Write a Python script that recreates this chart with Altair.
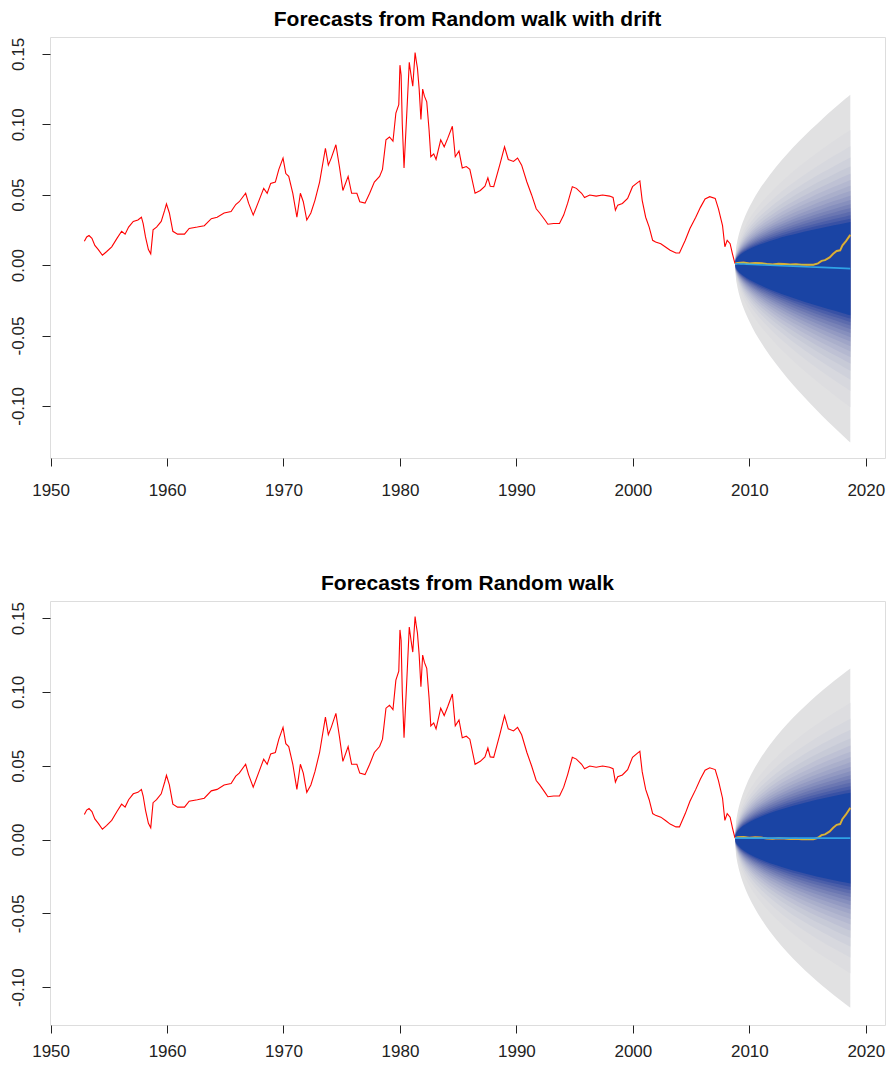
import math
import altair as alt
import pandas as pd

# ---------------- data ----------------
hist_t = [1952.9, 1953.1, 1953.3, 1953.55, 1953.8, 1954.1, 1954.45, 1954.8, 1955.25, 1955.7,
          1956.1, 1956.4, 1956.7, 1957.1, 1957.5, 1957.8, 1957.95, 1958.15, 1958.4, 1958.6,
          1958.8, 1959.1, 1959.5, 1959.8, 1959.95, 1960.2, 1960.5, 1960.9, 1961.5, 1961.9,
          1962.6, 1963.2, 1963.8, 1964.3, 1964.9, 1965.5, 1965.9, 1966.2, 1966.75, 1967.0,
          1967.4, 1967.9, 1968.3, 1968.6, 1968.9, 1969.3, 1969.6, 1969.96, 1970.2, 1970.45,
          1970.8, 1971.15, 1971.45, 1971.7, 1972.0, 1972.35, 1972.7, 1973.1, 1973.6, 1973.85,
          1974.1, 1974.5, 1974.8, 1975.1, 1975.55, 1975.85, 1976.3, 1976.55, 1977.0, 1977.4,
          1977.8, 1978.25, 1978.5, 1978.8, 1979.1, 1979.4, 1979.65, 1979.9, 1980.0, 1980.1,
          1980.2, 1980.35, 1980.6, 1980.8, 1980.95, 1981.1, 1981.3, 1981.4, 1981.5, 1981.65,
          1981.8, 1981.95, 1982.1, 1982.3, 1982.5, 1982.65, 1982.9, 1983.1, 1983.5, 1983.8,
          1984.1, 1984.5, 1984.75, 1985.07, 1985.35, 1985.7, 1986.0, 1986.45, 1986.9, 1987.3,
          1987.55, 1987.75, 1988.05, 1988.6, 1988.98, 1989.3, 1989.75, 1990.1, 1990.45, 1990.9,
          1991.3, 1991.7, 1992.0, 1992.45, 1992.7, 1993.2, 1993.7, 1994.06, 1994.4, 1994.8,
          1995.15, 1995.6, 1995.85, 1996.3, 1996.85, 1997.4, 1998.0, 1998.3, 1998.5, 1998.7,
          1999.1, 1999.55, 1999.97, 2000.4, 2000.6, 2000.8, 2001.1, 2001.4, 2001.7, 2001.95,
          2002.4, 2002.8, 2003.2, 2003.7, 2004.0, 2004.5, 2004.9, 2005.4, 2005.8, 2006.2,
          2006.6, 2007.07, 2007.35, 2007.7, 2007.9, 2008.1, 2008.35, 2008.55, 2008.77]
hist_v = [0.017, 0.020, 0.021, 0.019, 0.014, 0.011, 0.007, 0.0095, 0.013, 0.019,
          0.024, 0.022, 0.027, 0.031, 0.032, 0.034, 0.0295, 0.020, 0.011, 0.008,
          0.025, 0.027, 0.031, 0.039, 0.0435, 0.037, 0.024, 0.022, 0.022, 0.026,
          0.027, 0.028, 0.033, 0.034, 0.037, 0.038, 0.043, 0.045, 0.051, 0.044,
          0.0355, 0.046, 0.0545, 0.051, 0.058, 0.059, 0.068, 0.076, 0.065, 0.063,
          0.051, 0.034, 0.051, 0.045, 0.032, 0.037, 0.046, 0.059, 0.083, 0.071,
          0.076, 0.0855, 0.070, 0.053, 0.063, 0.051, 0.051, 0.045, 0.044, 0.051,
          0.059, 0.063, 0.068, 0.089, 0.091, 0.088, 0.108, 0.114, 0.142, 0.135,
          0.100, 0.069, 0.110, 0.144, 0.135, 0.127, 0.151, 0.145, 0.140, 0.125,
          0.1035, 0.125, 0.120, 0.116, 0.096, 0.077, 0.079, 0.075, 0.089, 0.084,
          0.090, 0.0986, 0.077, 0.081, 0.069, 0.070, 0.068, 0.051, 0.053, 0.056,
          0.062, 0.056, 0.0557, 0.072, 0.084, 0.075, 0.0736, 0.076, 0.071, 0.059,
          0.050, 0.040, 0.037, 0.032, 0.029, 0.0295, 0.0295, 0.0355, 0.044, 0.0557,
          0.0545, 0.051, 0.048, 0.0498, 0.049, 0.0498, 0.049, 0.048, 0.039, 0.0426,
          0.0438, 0.0474, 0.0557, 0.0586, 0.0598, 0.046, 0.034, 0.027, 0.0176, 0.0164,
          0.0152, 0.0129, 0.0105, 0.0086, 0.0086, 0.0176, 0.026, 0.034, 0.041, 0.047,
          0.0486, 0.0474, 0.040, 0.028, 0.013, 0.0176, 0.0152, 0.008, 0.001]

act_t = [2008.77, 2009.0, 2009.5, 2010.0, 2010.5, 2011.0, 2011.5, 2012.0, 2012.5, 2013.0,
         2013.5, 2014.0, 2014.5, 2015.0, 2015.5, 2015.9, 2016.2, 2016.5, 2016.9, 2017.2,
         2017.5, 2017.8, 2018.0, 2018.3, 2018.67]
act_v = [0.001, 0.0015, 0.0018, 0.0012, 0.0015, 0.0014, 0.0008, 0.0005, 0.0009, 0.0007,
         0.0004, 0.0006, 0.0003, 0.0002, 0.0002, 0.0012, 0.003, 0.0035, 0.0055, 0.008,
         0.010, 0.0105, 0.014, 0.017, 0.0215]

fc_t = [2008.77, 2008.85, 2008.94, 2009.02, 2009.27, 2009.52, 2009.77, 2010.27, 2010.77,
        2011.27, 2012.27, 2013.27, 2014.27, 2015.27, 2016.27, 2017.27, 2018.27, 2018.67]
# point forecasts and 99% half-widths
drift_mean = [0.001, 0.00097, 0.00094, 0.00091, 0.00082, 0.00073, 0.00065, 0.00047, 0.00029,
              0.00012, -0.00024, -0.00059, -0.00094, -0.0013, -0.00165, -0.002, -0.00236, -0.0025]
drift_half99 = [0.0, 0.0102, 0.0149, 0.0181, 0.0257, 0.0315, 0.0365, 0.0449, 0.0521,
                0.0584, 0.0697, 0.0797, 0.0889, 0.0974, 0.1055, 0.1132, 0.1206, 0.1235]
rw_mean = [0.001] * 18
rw_half99 = [0.0, 0.0103, 0.0151, 0.0183, 0.0258, 0.0316, 0.0365, 0.0447, 0.0516,
             0.0577, 0.0683, 0.0775, 0.0856, 0.0931, 0.1000, 0.1064, 0.1125, 0.1149]

fan_levels = [51, 54, 57, 60, 63, 66, 69, 72, 75, 78, 81, 84, 87, 90, 93, 96, 99]
fan_z = [0.690, 0.739, 0.789, 0.842, 0.896, 0.954, 1.015, 1.080, 1.150, 1.227,
         1.311, 1.405, 1.514, 1.645, 1.812, 2.054, 2.576]

x_ticks = [1950, 1960, 1970, 1980, 1990, 2000, 2010, 2020]
y_ticks = [-0.10, -0.05, 0.0, 0.05, 0.10, 0.15]


# ---------------- colours (sequential HCL, blue -> grey) ----------------
def hcl_hex(L, C, H):
    Xn, Yn, Zn = 95.047, 100.0, 108.883
    un = 4 * Xn / (Xn + 15 * Yn + 3 * Zn)
    vn = 9 * Yn / (Xn + 15 * Yn + 3 * Zn)
    u = C * math.cos(math.radians(H))
    v = C * math.sin(math.radians(H))
    Y = Yn * (((L + 16) / 116) ** 3 if L > 8 else L / 903.3)
    up = u / (13 * L) + un
    vp = v / (13 * L) + vn
    X = Y * 9 * up / (4 * vp)
    Z = Y * (12 - 3 * up - 20 * vp) / (4 * vp)
    X, Y, Z = X / 100, Y / 100, Z / 100
    r = 3.2406 * X - 1.5372 * Y - 0.4986 * Z
    g = -0.9689 * X + 1.8758 * Y + 0.0415 * Z
    b = 0.0557 * X - 0.2040 * Y + 1.0570 * Z
    out = []
    for c in (r, g, b):
        c = 12.92 * c if c <= 0.0031308 else 1.055 * (max(c, 0) ** (1 / 2.4)) - 0.055
        out.append(int(round(min(max(c, 0), 1) * 255)))
    return "#%02x%02x%02x" % tuple(out)


fan_colors = []
for lev in fan_levels:
    j = lev - 49
    i = 1 - (j - 1) / 51
    p = i ** 1.5
    fan_colors.append(hcl_hex(90 - 60 * p, 80 * p, 260))

FONT = "Liberation Sans"
W = 835
X_DOM = [1949.95, 2021.65]


def panel(title, mean, half99, y_dom, height, xpad):
    xs = alt.X("t:Q", scale=alt.Scale(domain=X_DOM, nice=False, zero=False),
               axis=alt.Axis(values=x_ticks, format="d", domain=False, grid=False,
                             tickSize=8, tickColor="#222", labelColor="#222",
                             labelFont=FONT, labelFontSize=17, labelPadding=xpad,
                             labelFlush=False), title=None)
    ys = alt.Y("v:Q", scale=alt.Scale(domain=y_dom, nice=False, zero=False),
               axis=alt.Axis(values=y_ticks, domain=False, grid=False,
                             labelExpr="replace(format(datum.value, '.2f'), '\u2212', '-')",
                             labelAngle=270, labelAlign="center", labelBaseline="bottom",
                             tickSize=8, tickColor="#222", labelColor="#222",
                             labelFont=FONT, labelFontSize=17, labelPadding=15,
                             labelFlush=False), title=None)
    layers = []
    for k in range(len(fan_levels) - 1, -1, -1):
        frac = fan_z[k] / fan_z[-1]
        df = pd.DataFrame({
            "t": fc_t,
            "v": [m - h * frac for m, h in zip(mean, half99)],
            "v2": [m + h * frac for m, h in zip(mean, half99)],
        })
        layers.append(
            alt.Chart(df).mark_area(color=fan_colors[k], opacity=1, interpolate="monotone")
            .encode(x=xs, y=ys, y2="v2:Q")
        )
    hist = pd.DataFrame({"t": hist_t, "v": hist_v})
    layers.append(alt.Chart(hist).mark_line(color="#ff0000", strokeWidth=1.1).encode(x=xs, y=ys))
    act = pd.DataFrame({"t": act_t, "v": act_v})
    layers.append(alt.Chart(act).mark_line(color="#f09a28", strokeWidth=2).encode(x=xs, y=ys))
    layers.append(alt.Chart(act).mark_line(color="#b9c94a", strokeWidth=0.9).encode(x=xs, y=ys))
    fc = pd.DataFrame({"t": fc_t, "v": mean})
    layers.append(alt.Chart(fc).mark_line(color="#2fa3e6", strokeWidth=1.6).encode(x=xs, y=ys))
    return alt.layer(*layers).properties(
        width=W, height=height,
        title=alt.TitleParams(title, font=FONT, fontSize=21, fontWeight="bold",
                              color="#000", anchor="middle", offset=7),
    )


top = panel("Forecasts from Random walk with drift", drift_mean, drift_half99,
            [-0.137, 0.162], 421, 16)
bottom = panel("Forecasts from Random walk", rw_mean, rw_half99,
               [-0.1256, 0.1616], 424, 10)

chart = alt.vconcat(top, bottom, spacing=73).properties(
    padding={"left": 0, "top": 0, "right": 0, "bottom": 0}
).configure_view(
    stroke="#333", strokeWidth=1.2
).configure(background="white")

chart.save("out.html", embed_options={"renderer": "svg", "actions": False})
